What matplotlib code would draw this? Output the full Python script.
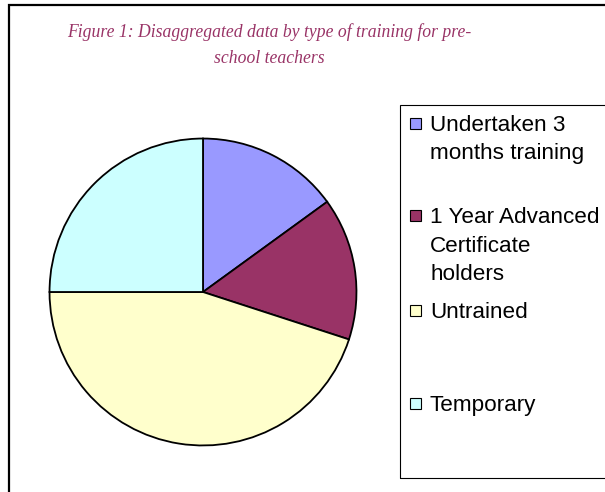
import matplotlib
matplotlib.use('Agg')
import matplotlib.pyplot as plt
from matplotlib.patches import Rectangle

# Chart data
labels = ['Undertaken 3\nmonths training', '1 Year Advanced\nCertificate\nholders',
          'Untrained', 'Temporary']
shares = [15, 15, 45, 25]
colors = ['#9999FF', '#993366', '#FFFFCC', '#CCFFFF']
title_lines = ['Figure 1: Disaggregated data by type of training for pre-',
               'school teachers']

W, H = 605, 492
fig = plt.figure(figsize=(W / 100, H / 100), dpi=100)

def fx(px):
    return px / W

def fy(py):
    return 1 - py / H

# outer chart frame (left and top edges visible)
fig.add_artist(Rectangle((fx(9), fy(H + 20)), 2.0, fy(5) - fy(H + 20),
                         transform=fig.transFigure, fill=False,
                         edgecolor='black', linewidth=1.6))

# pie
cx, cy, r = 203, 292, 155
ax = fig.add_axes([fx(cx - r), fy(cy + r), fx(2 * r), (2 * r) / H])
ax.pie(shares, colors=colors, startangle=90, counterclock=False,
       wedgeprops=dict(edgecolor='black', linewidth=1.3))
ax.set_xlim(-1.01, 1.01)
ax.set_ylim(-1.01, 1.01)
ax.set_aspect('equal')
ax.axis('off')

# title
for i, line in enumerate(title_lines):
    fig.text(fx(269), fy(37 + i * 26), line, ha='center', va='baseline',
             family='Liberation Serif', style='italic', fontsize=12.7,
             color='#993366')

# legend box
fig.add_artist(Rectangle((fx(400), fy(478)), 2.0, fy(105) - fy(478),
                         transform=fig.transFigure, fill=False,
                         edgecolor='black', linewidth=0.8))

entry_y = [123, 215, 310, 403]
for lab, col, y0 in zip(labels, colors, entry_y):
    fig.add_artist(Rectangle((fx(410), fy(y0 + 6)), fx(11), 11 / H,
                             transform=fig.transFigure, facecolor=col,
                             edgecolor='black', linewidth=0.8))
    for j, line in enumerate(lab.split('\n')):
        fig.text(fx(430), fy(y0 + 8 + j * 28.5), line, ha='left', va='baseline',
                 family='Liberation Sans', fontsize=16.2, color='black')

fig.savefig('out.png', dpi=100)
